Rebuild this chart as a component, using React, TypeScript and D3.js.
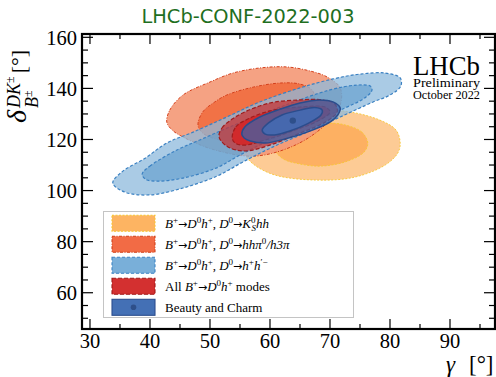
import * as d3 from "d3";

type Pt = [number, number];

// confidence contours, [gamma, delta] in degrees
const kshhOuter: Pt[] = [
  [81.7, 118.6], [81.0, 123.7], [78.3, 127.6], [73.3, 130.8], [68.3, 131.5],
  [63.3, 129.6], [58.7, 125.7], [56.3, 119.8], [56.0, 113.9], [57.2, 110.4],
  [60.8, 106.1], [67.8, 104.1], [74.2, 105.3], [79.2, 110.0], [81.3, 114.7],
];
const kshhInner: Pt[] = [
  [76.3, 118.6], [75.3, 122.9], [72.5, 125.7], [69.2, 126.4], [65.0, 124.5],
  [62.2, 121.0], [60.8, 116.7], [62.0, 112.7], [65.0, 110.4], [68.7, 109.6],
  [73.0, 111.6], [75.7, 115.1],
];
const hhpi0Outer: Pt[] = [
  [42.8, 126.8], [43.3, 131.5], [45.5, 137.4], [50.0, 142.5], [53.8, 146.0],
  [58.3, 148.0], [62.8, 148.4], [66.7, 146.8], [69.5, 144.5], [71.7, 140.2],
  [71.7, 133.5], [69.2, 125.7], [64.2, 117.8], [57.5, 113.5], [50.8, 115.9],
  [45.8, 120.6], [43.7, 123.7],
];
const hhpi0Inner: Pt[] = [
  [48.0, 125.7], [48.8, 130.8], [50.8, 134.7], [52.8, 137.4], [57.2, 140.5],
  [61.7, 142.1], [65.0, 141.7], [67.0, 139.4], [67.5, 135.5], [65.8, 129.6],
  [61.7, 123.7], [56.7, 119.8], [51.7, 119.8], [48.8, 122.5],
];
const hhOuter: Pt[] = [
  [33.8, 103.0], [35.3, 107.3], [39.2, 112.7], [42.8, 118.6], [47.2, 122.9],
  [52.8, 128.8], [58.3, 134.7], [65.0, 140.2], [70.5, 143.7], [75.0, 145.6],
  [79.2, 146.0], [81.7, 144.1], [81.8, 140.9], [80.0, 137.4], [77.2, 134.7],
  [71.7, 128.8], [66.2, 122.9], [60.5, 117.1], [55.8, 111.6], [51.2, 105.7],
  [45.5, 101.0], [40.0, 98.3], [35.8, 99.4],
];
const hhInner: Pt[] = [
  [38.7, 106.5], [40.0, 109.6], [44.5, 115.9], [48.3, 119.8], [53.3, 124.9],
  [61.7, 132.7], [70.0, 139.4], [74.5, 141.3], [76.7, 140.9], [77.0, 139.4],
  [76.0, 136.6], [71.7, 131.5], [65.0, 124.9], [60.0, 119.8], [55.0, 113.9],
  [51.0, 108.8], [45.5, 104.9], [41.2, 103.7], [39.2, 104.5],
];
const allDhOuter: Pt[] = [
  [51.5, 121.0], [52.0, 124.5], [53.7, 128.0], [55.8, 130.8], [60.0, 134.3],
  [65.0, 135.5], [68.7, 135.5], [70.8, 133.9], [71.2, 130.8], [69.2, 126.8],
  [65.0, 122.5], [60.0, 117.8], [55.8, 115.5], [53.0, 117.1],
];
const allDhInner: Pt[] = [
  [53.7, 120.6], [54.3, 124.9], [56.3, 128.0], [60.0, 131.2], [65.0, 132.7],
  [69.2, 132.7], [70.0, 130.8], [68.3, 127.6], [64.2, 123.7], [59.2, 119.8],
  [55.8, 117.8], [54.2, 118.6],
];
const comboOuter: Pt[] = [
  [55.3, 122.1], [55.8, 124.9], [58.3, 128.8], [61.7, 131.9], [65.0, 134.3],
  [68.3, 135.5], [70.5, 134.7], [71.7, 132.3], [71.3, 129.6], [70.0, 126.8],
  [66.2, 122.9], [62.5, 120.2], [59.2, 118.6], [56.7, 119.4], [55.7, 120.6],
];
const comboInner: Pt[] = [
  [58.7, 123.7], [59.7, 126.4], [62.0, 129.6], [65.0, 131.5], [67.5, 132.5],
  [68.7, 131.5], [68.5, 129.6], [66.2, 126.1], [63.3, 123.3], [60.8, 121.8],
  [59.2, 122.1],
];
const comboBest: Pt = [63.8, 127.4];

const xTicks = [30, 40, 50, 60, 70, 80, 90];
const yTicks = [60, 80, 100, 120, 140, 160];

const W = 496;
const H = 377;
const serif = "'Liberation Serif', 'Times New Roman', serif";

const layers = [
  { outer: kshhOuter, inner: kshhInner, oFill: "#FDCB95", iFill: "#FDB062", oOp: 1, iOp: 1, stroke: "#F7C734", dash: "2,1.5", sw: 0.9 },
  { outer: hhpi0Outer, inner: hhpi0Inner, oFill: "#F49A78", iFill: "#F06A3C", oOp: 0.92, iOp: 0.85, stroke: "#D4401C", dash: "3,1.5,1,1.5", sw: 1 },
  { outer: hhOuter, inner: hhInner, oFill: "#8DB9DC", iFill: "#5E9BCB", oOp: 0.75, iOp: 0.6, stroke: "#3A80C2", dash: "3,2", sw: 1.2 },
  { outer: allDhOuter, inner: allDhInner, oFill: "#C83232", iFill: "#D82020", oOp: 0.72, iOp: 0.8, stroke: "#A01C1C", dash: "4,2", sw: 1.2 },
  { outer: comboOuter, inner: comboInner, oFill: "#3C64AA", iFill: "#3F6EB8", oOp: 0.72, iOp: 0.8, stroke: "#2B4C8C", dash: "", sw: 1.5 },
];

const Sup = ({ children }: { children: string }) => (
  <tspan baselineShift="5" fontSize={9}>{children}</tspan>
);

const Arrow = () => (
  <tspan fontFamily="'DejaVu Sans', sans-serif" fontSize={11}>→</tspan>
);

const BDh = () => (
  <>
    <tspan fontStyle="italic">B</tspan>
    <Sup>+</Sup>
    <Arrow />
    <tspan fontStyle="italic">D</tspan>
    <Sup>0</Sup>
    <tspan fontStyle="italic">h</tspan>
    <Sup>+</Sup>
  </>
);

const D0to = () => (
  <>
    <tspan>, </tspan>
    <tspan fontStyle="italic">D</tspan>
    <Sup>0</Sup>
    <Arrow />
  </>
);

const legendItems = [
  {
    fill: "#FDB462", stroke: "#F8C630", dash: "2,1.5",
    label: (
      <>
        <BDh /><D0to />
        <tspan fontStyle="italic">K</tspan>
        <tspan baselineShift="5" fontSize={9}>0</tspan>
        <tspan baselineShift="-3" dx={-4} fontSize={9} fontStyle="italic">S</tspan>
        <tspan fontStyle="italic">hh</tspan>
      </>
    ),
  },
  {
    fill: "#F26B45", stroke: "#D0401A", dash: "3,1.5,1,1.5",
    label: (
      <>
        <BDh /><D0to />
        <tspan fontStyle="italic">hhπ</tspan>
        <Sup>0</Sup>
        <tspan fontStyle="italic">/h3π</tspan>
      </>
    ),
  },
  {
    fill: "#79AFD9", stroke: "#3C83C3", dash: "3,2",
    label: (
      <>
        <BDh /><D0to />
        <tspan fontStyle="italic">h</tspan>
        <Sup>+</Sup>
        <tspan fontStyle="italic">h</tspan>
        <Sup>′−</Sup>
      </>
    ),
  },
  {
    fill: "#D33030", stroke: "#A01818", dash: "4,2",
    label: (
      <>
        <tspan>All </tspan>
        <BDh />
        <tspan> modes</tspan>
      </>
    ),
  },
  {
    fill: "#4470B5", stroke: "#2C4E8E", dash: "",
    label: <tspan>Beauty and Charm</tspan>,
  },
];

export default function App() {
  const x = d3.scaleLinear().domain([28.67, 97.5]).range([82, 495]);
  const y = d3.scaleLinear().domain([45.8, 161.3]).range([329, 34]);
  const [x0, x1] = x.range();
  const [y0, y1] = y.range();

  const line = d3
    .line<Pt>()
    .x((d) => x(d[0]))
    .y((d) => y(d[1]))
    .curve(d3.curveCatmullRomClosed.alpha(0.5));

  const xMinor = d3.range(30, 97.5, 5).filter((v) => !xTicks.includes(v));
  const yMinor = d3.range(50, 161, 5).filter((v) => !yTicks.includes(v));

  const legX = 103.5;
  const legY = 211.5;
  const rowH = 21;

  return (
    <div style={{ position: "absolute", left: 0, top: 0 }}>
      <svg width={W} height={H} style={{ display: "block", background: "#fff" }}>
        <text
          x={248}
          y={23.3}
          textAnchor="middle"
          fontFamily="'DejaVu Sans', sans-serif"
          fontSize={19.4}
          fill="#1f6f1f"
        >
          LHCb-CONF-2022-003
        </text>

        <defs>
          <clipPath id="plot-area">
            <rect x={x0} y={y1} width={x1 - x0} height={y0 - y1} />
          </clipPath>
        </defs>

        <g clipPath="url(#plot-area)">
          {layers.map((l, i) => (
            <g key={i}>
              <path
                d={line(l.outer) ?? ""}
                fill={l.oFill}
                fillOpacity={l.oOp}
                stroke={l.stroke}
                strokeWidth={l.sw}
                strokeDasharray={l.dash || undefined}
              />
              <path
                d={line(l.inner) ?? ""}
                fill={l.iFill}
                fillOpacity={l.iOp}
                stroke={l.stroke}
                strokeWidth={l.sw}
                strokeDasharray={l.dash || undefined}
              />
            </g>
          ))}
          <circle cx={x(comboBest[0])} cy={y(comboBest[1])} r={3.2} fill="#2E4F8A" />
        </g>

        {/* ticks on all four sides, pointing inward */}
        {xTicks.map((t) => (
          <g key={`xt${t}`}>
            <line x1={x(t)} x2={x(t)} y1={y0} y2={y0 - 10} stroke="#000" strokeWidth={1.2} />
            <line x1={x(t)} x2={x(t)} y1={y1} y2={y1 + 10} stroke="#000" strokeWidth={1.2} />
            <text x={x(t)} y={348} textAnchor="middle" fontFamily={serif} fontSize={20.5}>
              {t}
            </text>
          </g>
        ))}
        {xMinor.map((t) => (
          <g key={`xm${t}`}>
            <line x1={x(t)} x2={x(t)} y1={y0} y2={y0 - 5} stroke="#000" strokeWidth={1.2} />
            <line x1={x(t)} x2={x(t)} y1={y1} y2={y1 + 5} stroke="#000" strokeWidth={1.2} />
          </g>
        ))}
        {yTicks.map((t) => (
          <g key={`yt${t}`}>
            <line x1={x0} x2={x0 + 11} y1={y(t)} y2={y(t)} stroke="#000" strokeWidth={1.2} />
            <line x1={x1} x2={x1 - 11} y1={y(t)} y2={y(t)} stroke="#000" strokeWidth={1.2} />
            <text x={77} y={y(t) + 7.5} textAnchor="end" fontFamily={serif} fontSize={20.5}>
              {t}
            </text>
          </g>
        ))}
        {yMinor.map((t) => (
          <g key={`ym${t}`}>
            <line x1={x0} x2={x0 + 6} y1={y(t)} y2={y(t)} stroke="#000" strokeWidth={1.2} />
            <line x1={x1} x2={x1 - 6} y1={y(t)} y2={y(t)} stroke="#000" strokeWidth={1.2} />
          </g>
        ))}
        <rect x={x0} y={y1} width={x1 - x0} height={y0 - y1} fill="none" stroke="#000" strokeWidth={2.2} />

        {/* legend */}
        <rect x={legX} y={legY} width={250} height={106} fill="#fff" stroke="#c4c4c4" strokeWidth={1} />
        {legendItems.map((it, i) => {
          const cy = legY + 11.8 + i * rowH;
          return (
            <g key={i}>
              <rect
                x={112}
                y={cy - 8}
                width={43}
                height={16}
                fill={it.fill}
                stroke={it.stroke}
                strokeWidth={1.1}
                strokeDasharray={it.dash || undefined}
              />
              {i === 4 && <circle cx={133.5} cy={cy} r={2.8} fill="#2E4F8A" />}
              <text x={165} y={cy + 4.5} fontFamily={serif} fontSize={13}>
                {it.label}
              </text>
            </g>
          );
        })}

        {/* LHCb label */}
        <g fontFamily={serif} textAnchor="end">
          <text x={480} y={74.5} fontSize={27} textLength={67} lengthAdjust="spacingAndGlyphs">LHCb</text>
          <text x={480} y={86.5} fontSize={12.5} textLength={67} lengthAdjust="spacingAndGlyphs">Preliminary</text>
          <text x={480} y={98.5} fontSize={12} textLength={67} lengthAdjust="spacingAndGlyphs">October 2022</text>
        </g>

        {/* axis titles */}
        <g fontFamily={serif}>
          <text x={446} y={372} fontSize={23} fontStyle="italic">γ</text>
          <text x={469} y={372} fontSize={23}>[°]</text>
        </g>
        <text transform="translate(26,123) rotate(-90)" fontFamily={serif}>
          <tspan fontStyle="italic" fontSize={28}>δ</tspan>
          <tspan fontStyle="italic" fontSize={18} baselineShift="6" dx={2}>DK</tspan>
          <tspan fontSize={12} baselineShift="12">±</tspan>
          <tspan fontStyle="italic" fontSize={18} baselineShift="-12" dx={-31.5}>B</tspan>
          <tspan fontSize={12} baselineShift="-6">±</tspan>
          <tspan fontSize={22} dx={17}>[°]</tspan>
        </text>
      </svg>
    </div>
  );
}
